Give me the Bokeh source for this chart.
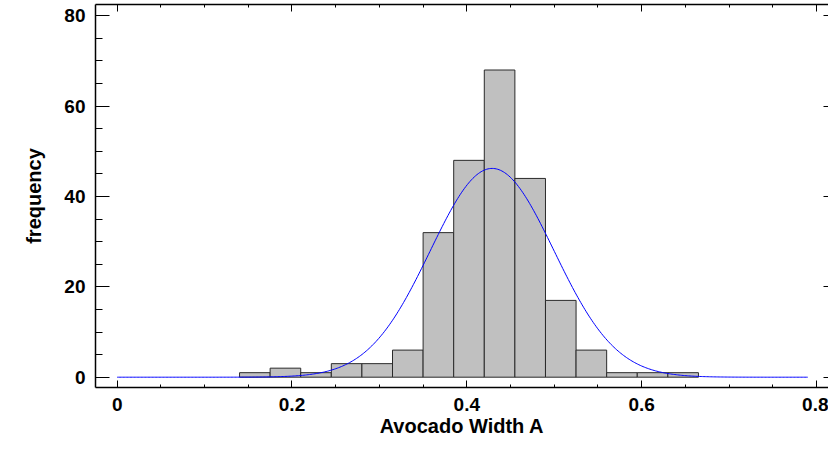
import numpy as np
from bokeh.plotting import figure
from bokeh.models import ColumnDataSource, FixedTicker, LinearAxis, Range1d
from bokeh.embed import file_html
from bokeh.resources import INLINE

# Histogram of avocado widths: bin edges and counts
bin_edges = [0.14, 0.175, 0.21, 0.245, 0.28, 0.315, 0.35, 0.385,
             0.42, 0.455, 0.49, 0.525, 0.56, 0.595, 0.63, 0.665]
counts = [1, 2, 1, 3, 3, 6, 32, 48, 68, 44, 17, 6, 1, 1, 1]

# Fitted normal distribution overlaid on the histogram
fit_mean = 0.429
fit_sd = 0.0707
curve_start, curve_end = 0.0, 0.79

x_ticks = [0.0, 0.2, 0.4, 0.6, 0.8]
x_tick_labels = ["0", "0.2", "0.4", "0.6", "0.8"]
y_ticks = [0, 20, 40, 60, 80]

FONT = "Liberation Sans"

bins = ColumnDataSource(dict(left=bin_edges[:-1], right=bin_edges[1:], top=counts))

bin_width = bin_edges[1] - bin_edges[0]
n_obs = sum(counts)
cx = np.linspace(curve_start, curve_end, 500)
cy = n_obs * bin_width * np.exp(-0.5 * ((cx - fit_mean) / fit_sd) ** 2) / (fit_sd * np.sqrt(2 * np.pi))

p = figure(width=828, height=450, output_backend="svg", toolbar_location=None,
           x_range=Range1d(-0.0248, 0.8138), y_range=Range1d(-2.28, 82.5),
           min_border_left=95, min_border_right=0, min_border_top=4, min_border_bottom=63,
           x_axis_label="Avocado Width A", y_axis_label="frequency")
p.outline_line_color = None
p.grid.visible = False
p.background_fill_color = "white"
p.border_fill_color = "white"

p.quad(left="left", right="right", top="top", bottom=0, source=bins,
       fill_color="#c0c0c0", line_color="#2a2a2a", line_width=1)
p.line(cx, cy, line_color="#0000ff", line_width=1)

x_minor = [round(v, 2) for v in np.arange(0.05, 0.8, 0.05) if round(v, 2) not in x_ticks]
y_minor = [v for v in range(5, 80, 5) if v not in y_ticks]
xt = FixedTicker(ticks=x_ticks, minor_ticks=x_minor)
yt = FixedTicker(ticks=y_ticks, minor_ticks=y_minor)

def style(ax, major_in, minor_in, labels=True):
    ax.axis_line_color = "black"
    ax.axis_line_width = 1.5
    ax.major_tick_in = major_in
    ax.major_tick_out = 0
    ax.minor_tick_in = minor_in
    ax.minor_tick_out = 0
    ax.major_tick_line_color = "black"
    ax.minor_tick_line_color = "black" if minor_in else None
    ax.major_tick_line_width = 1
    ax.minor_tick_line_width = 1
    if labels:
        ax.major_label_text_font = FONT
        ax.major_label_text_font_style = "bold"
        ax.major_label_text_font_size = "19px"
        ax.major_label_text_color = "black"
        ax.axis_label_text_font = FONT
        ax.axis_label_text_font_style = "bold"
        ax.axis_label_text_font_size = "20px"
        ax.axis_label_text_color = "black"
    else:
        # tick marks only, no labels on the mirrored axes
        ax.major_label_overrides = {v: "" for v in ax.ticker.ticks}
        ax.major_label_standoff = 0

xa = p.xaxis[0]
xa.ticker = xt
xa.major_label_overrides = {v: s for v, s in zip(x_ticks, x_tick_labels)}
style(xa, 7, 3)
xa.major_label_standoff = 10
xa.axis_label_standoff = 1

ya = p.yaxis[0]
ya.ticker = yt
style(ya, 14, 7)
ya.major_label_standoff = 10
ya.axis_label_standoff = 16

top_axis = LinearAxis(ticker=xt)
style(top_axis, 7, 3, labels=False)
p.add_layout(top_axis, "above")

right_axis = LinearAxis(ticker=yt)
style(right_axis, 5, 0, labels=False)
right_axis.axis_line_color = None
p.add_layout(right_axis, "right")

open("out.html", "w").write(file_html(p, INLINE))
